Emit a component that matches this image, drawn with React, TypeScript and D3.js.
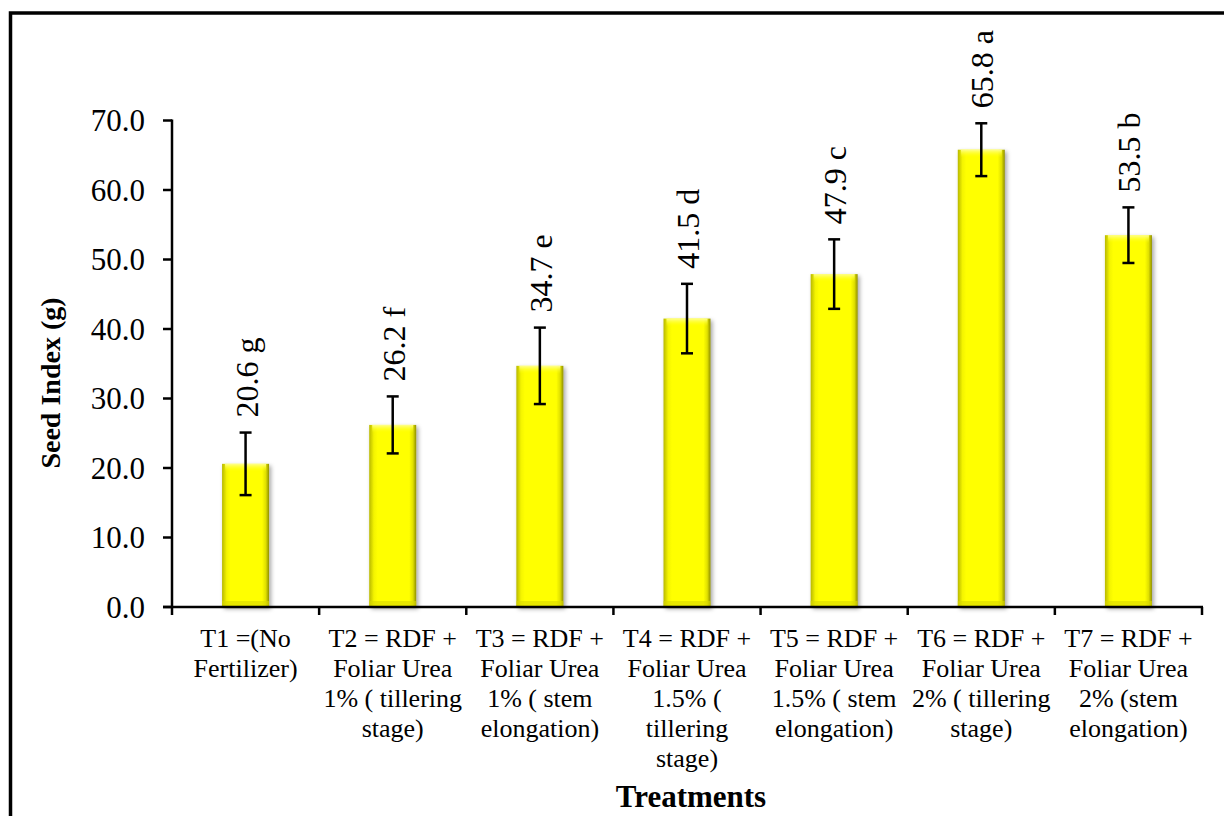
import React from "react";
import * as d3 from "d3";

const categories = ["T1", "T2", "T3", "T4", "T5", "T6", "T7"];
const categoryLines: string[][] = [
  ["T1 =(No", "Fertilizer)"],
  ["T2 = RDF +", "Foliar Urea", "1% ( tillering", "stage)"],
  ["T3 = RDF +", "Foliar Urea", "1% ( stem", "elongation)"],
  ["T4 = RDF +", "Foliar Urea", "1.5% (", "tillering", "stage)"],
  ["T5 = RDF +", "Foliar Urea", "1.5% ( stem", "elongation)"],
  ["T6 = RDF +", "Foliar Urea", "2% ( tillering", "stage)"],
  ["T7 = RDF +", "Foliar Urea", "2% (stem", "elongation)"],
];
const values = [20.6, 26.2, 34.7, 41.5, 47.9, 65.8, 53.5];
const errors = [4.5, 4.1, 5.5, 5.0, 5.0, 3.8, 4.0];
const letters = ["g", "f", "e", "d", "c", "a", "b"];
const yTicks = [0, 10, 20, 30, 40, 50, 60, 70];

const W = 1224;
const H = 816;
const left = 172;
const right = 1202;
const top = 120.5;
const bottom = 607;
const font = "Times New Roman, Liberation Serif, Tinos, DejaVu Serif, serif";
const fs = { fontFamily: font };

export default function App() {
  const band = d3.scaleBand<string>().domain(categories).range([left, right]);
  const y = d3.scaleLinear().domain([0, 70]).range([bottom, top]);
  const bw = 47;

  return (
    <svg
      width={W}
      height={H}
      style={{ position: "absolute", left: 0, top: 0, background: "#fff", fontFamily: font }}
    >
      <defs>
        <linearGradient id="barH" x1="0" x2="1" y1="0" y2="0">
          <stop offset="0" stopColor="#b8b800" />
          <stop offset="0.1" stopColor="#f4f400" />
          <stop offset="0.18" stopColor="#ffff00" />
          <stop offset="0.85" stopColor="#ffff00" />
          <stop offset="0.93" stopColor="#e0e000" />
          <stop offset="1" stopColor="#8f8f00" />
        </linearGradient>
        <linearGradient id="barTop" x1="0" x2="0" y1="0" y2="1">
          <stop offset="0" stopColor="#ffff90" />
          <stop offset="1" stopColor="#ffff00" stopOpacity="0" />
        </linearGradient>
        <filter id="shadow" x="-20%" y="-5%" width="150%" height="115%">
          <feDropShadow dx="2" dy="2" stdDeviation="2" floodColor="#000" floodOpacity="0.35" />
        </filter>
      </defs>
      <rect x={10.5} y={13} width={1240} height={830} fill="#fff" stroke="#000" strokeWidth={3.5} />

      {categories.map((c, i) => {
        const cx = band(c)! + band.bandwidth() / 2;
        const y0 = y(values[i]);
        return (
          <g key={c}>
            <rect x={cx - bw / 2} y={y0} width={bw} height={bottom - y0} fill="url(#barH)" filter="url(#shadow)" />
            <rect x={cx - bw / 2 + 3} y={y0} width={bw - 6} height={8} fill="url(#barTop)" />
            <rect x={cx - bw / 2} y={bottom - 6} width={bw} height={6} fill="#d8d800" opacity={0.6} />
          </g>
        );
      })}

      {categories.map((c, i) => {
        const cx = band(c)! + band.bandwidth() / 2;
        const yt = y(values[i] + errors[i]);
        const yb = y(values[i] - errors[i]);
        return (
          <g key={"e" + c} stroke="#000" strokeWidth={2.5}>
            <line x1={cx} x2={cx} y1={yt} y2={yb} />
            <line x1={cx - 6} x2={cx + 6} y1={yt} y2={yt} />
            <line x1={cx - 6} x2={cx + 6} y1={yb} y2={yb} />
          </g>
        );
      })}

      {categories.map((c, i) => {
        const cx = band(c)! + band.bandwidth() / 2 + 12;
        const yy = y(values[i] + errors[i]) - 15;
        return (
          <text
            key={"v" + c}
            transform={`translate(${cx},${yy}) rotate(-90)`}
            fontSize={32}
            fill="#000"
            textAnchor="start"
            style={fs}
          >
            {values[i].toFixed(1)} {letters[i]}
          </text>
        );
      })}

      <line x1={left} x2={left} y1={top - 1} y2={bottom + 1} stroke="#000" strokeWidth={2.5} />
      {yTicks.map((t) => (
        <g key={"y" + t}>
          <line x1={left - 9} x2={left} y1={y(t)} y2={y(t)} stroke="#000" strokeWidth={2.5} />
          <text x={left - 27} y={y(t)} dy="0.34em" textAnchor="end" fontSize={31} fill="#000" style={fs}>
            {t.toFixed(1)}
          </text>
        </g>
      ))}

      <line x1={left - 9} x2={right + 1} y1={bottom} y2={bottom} stroke="#000" strokeWidth={2.5} />
      {[...categories.map((c) => band(c)!), right].map((px, i) => (
        <line key={"xt" + i} x1={px} x2={px} y1={bottom} y2={bottom + 8} stroke="#000" strokeWidth={2.5} />
      ))}
      {categories.map((c, i) => {
        const cx = band(c)! + band.bandwidth() / 2;
        return (
          <text key={"xl" + c} x={cx} y={647} textAnchor="middle" fontSize={26} fill="#000" style={fs}>
            {categoryLines[i].map((ln, j) => (
              <tspan key={j} x={cx} y={647 + j * 30}>
                {ln}
              </tspan>
            ))}
          </text>
        );
      })}

      <text x={(left + right) / 2 + 4} y={807} textAnchor="middle" fontSize={31} fontWeight="bold" fill="#000" style={fs}>
        Treatments
      </text>
      <text transform={`translate(60,383) rotate(-90)`} textAnchor="middle" fontSize={28} fontWeight="bold" fill="#000" style={fs}>
        Seed Index (g)
      </text>
    </svg>
  );
}
